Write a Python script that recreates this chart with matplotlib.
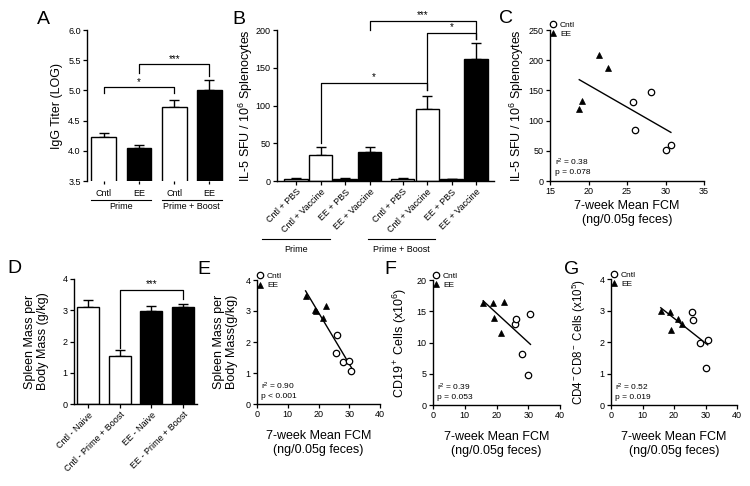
import numpy as np
import matplotlib
matplotlib.use('Agg')
import matplotlib.pyplot as plt
from matplotlib.lines import Line2D
from matplotlib.transforms import blended_transform_factory

plt.rcParams['font.family'] = ['Liberation Sans', 'DejaVu Sans']
plt.rcParams['mathtext.fontset'] = 'custom'
plt.rcParams['mathtext.rm'] = 'Liberation Sans'
plt.rcParams['mathtext.it'] = 'Liberation Sans:italic'
plt.rcParams['mathtext.bf'] = 'Liberation Sans:bold'

# ---------------- data ----------------
# Panel A
a_labels = ['Cntl', 'EE', 'Cntl', 'EE']
a_groups = ['Prime', 'Prime + Boost']
a_means = [4.23, 4.05, 4.72, 5.01]
a_err = [0.07, 0.05, 0.12, 0.16]
a_colors = ['white', 'black', 'white', 'black']
a_sig = [(0, 2, 5.06, 4.96, 4.96, '*'), (1, 3, 5.43, 5.29, 5.24, '***')]

# Panel B
b_labels = ['Cntl + PBS', 'Cntl + Vaccine', 'EE + PBS', 'EE + Vaccine',
            'Cntl + PBS', 'Cntl + Vaccine', 'EE + PBS', 'EE + Vaccine']
b_groups = ['Prime', 'Prime + Boost']
b_means = [3, 35, 3, 38, 3, 95, 2, 162]
b_err = [0.8, 10, 0.5, 7, 0.8, 18, 0.4, 21]
b_colors = ['white', 'white', 'black', 'black', 'white', 'white', 'black', 'black']
b_sig = [(1, 5, 130, 50, 120, '*'), (3, 7, 212, 200, 188, '***'), (5, 7, 196, 120, 188, '*')]

# Panel C
c_cntl_x = [25.8, 26.0, 28.1, 30.0, 30.7]
c_cntl_y = [130, 85, 147, 52, 59]
c_ee_x = [18.8, 19.2, 21.4, 22.5]
c_ee_y = [119, 132, 208, 187]
c_stats = 'r$^2$ = 0.38\np = 0.078'

# Panel D
d_labels = ['Cntl - Naive', 'Cntl - Prime + Boost', 'EE - Naive', 'EE - Prime + Boost']
d_means = [3.1, 1.55, 2.98, 3.1]
d_err = [0.24, 0.19, 0.15, 0.11]
d_colors = ['white', 'white', 'black', 'black']
d_sig = [(1, 3, 3.66, 1.8, 3.36, '***')]

# Panels E, F, G (shared FCM values)
cntl_fcm = [25.8, 26.0, 28.1, 30.0, 30.7]
ee_fcm = [15.8, 18.8, 19.2, 21.4, 22.5]
e_cntl = [1.65, 2.22, 1.37, 1.39, 1.07]
e_ee = [3.5, 3.03, 3.0, 2.78, 3.15]
e_stats = 'r$^2$ = 0.90\np < 0.001'
f_cntl = [13.0, 13.8, 8.2, 4.8, 14.6]
f_ee = [16.4, 16.4, 13.9, 11.5, 16.5]
f_stats = 'r$^2$ = 0.39\np = 0.053'
g_cntl = [2.95, 2.71, 1.98, 1.19, 2.07]
g_ee = [3.0, 2.95, 2.37, 2.73, 2.57]
g_stats = 'r$^2$ = 0.52\np = 0.019'

# ---------------- layout helpers ----------------
W, H = 750, 486
fig = plt.figure(figsize=(W / 100, H / 100), dpi=100)


def rect(l, r, t, b):
    return [l / W, 1 - b / H, (r - l) / W, (b - t) / H]


def px(x, y):
    return x / W, 1 - y / H


TICK_FS = 6.5
LABEL_FS = 9
SMALL_FS = 6.0


def style(ax, hide_bottom=False):
    for s in ['top', 'right']:
        ax.spines[s].set_visible(False)
    if hide_bottom:
        ax.spines['bottom'].set_visible(False)
    for s in ax.spines.values():
        s.set_linewidth(1.0)
    ax.tick_params(direction='out', length=3, width=0.9, labelsize=TICK_FS, pad=1.5)


def bars(ax, pos, means, errs, colors, width):
    ax.bar(pos, means, width=width, color=colors, edgecolor='black', linewidth=1.0, zorder=2)
    ax.errorbar(pos, means, yerr=[np.zeros(len(errs)), errs], fmt='none', ecolor='black',
                elinewidth=1.0, capsize=3.5, capthick=1.0, zorder=1, clip_on=False)


def brackets(ax, pos, sig, off):
    for i1, i2, y, l1, l2, txt in sig:
        x1, x2 = pos[i1], pos[i2]
        ax.plot([x1, x1, x2, x2], [l1, y, y, l2], color='black', lw=0.9, clip_on=False)
        ax.text((x1 + x2) / 2, y + off, txt, ha='center', va='bottom', fontsize=7, clip_on=False)


def ylab(ax, text, xpix, l, r, fs=LABEL_FS):
    # xpix = right edge (screen) of the rotated label
    ax.set_ylabel(text, fontsize=fs, linespacing=1.1)
    ax.yaxis.set_label_coords((xpix - l) / (r - l), 0.5)


def scatter_panel(ax, cx, cy, ex, ey, stats):
    ax.plot(cx, cy, 'o', ms=4.6, mfc='white', mec='black', mew=0.9, ls='none',
            label='Cntl', clip_on=False, zorder=3)
    ax.plot(ex, ey, '^', ms=4.0, mfc='black', mec='black', mew=0.5, ls='none',
            label='EE', clip_on=False, zorder=3)
    allx = np.array(list(cx) + list(ex))
    ally = np.array(list(cy) + list(ey))
    k, b0 = np.polyfit(allx, ally, 1)
    xs = np.array([allx.min(), allx.max()])
    ax.plot(xs, k * xs + b0, color='black', lw=1.0, zorder=2)
    ax.text(0.03, 0.03, stats, transform=ax.transAxes, fontsize=SMALL_FS, ha='left', va='bottom',
            linespacing=1.3)
    ax.legend(loc='upper left', bbox_to_anchor=(0.0, 1.06), borderaxespad=0, frameon=False,
              fontsize=SMALL_FS, handlelength=0.6, handletextpad=0.6, labelspacing=0.15,
              numpoints=1, borderpad=0)


def xlab2(ax, pad):
    ax.set_xlabel('7-week Mean FCM\n(ng/0.05g feces)', fontsize=LABEL_FS, linespacing=1.2, labelpad=pad)


# ---------------- Panel A ----------------
l, r, t, b = 87, 225, 30, 181
axA = fig.add_axes(rect(l, r, t, b))
posA = np.arange(4)
bars(axA, posA, a_means, a_err, a_colors, 0.7)
axA.set_ylim(3.5, 6.0)
axA.set_xlim(-0.47, 3.44)
axA.set_yticks([3.5, 4.0, 4.5, 5.0, 5.5, 6.0])
axA.set_yticklabels(['3.5', '4.0', '4.5', '5.0', '5.5', '6.0'])
axA.set_xticks(posA)
axA.set_xticklabels(a_labels)
style(axA, hide_bottom=True)
axA.tick_params(axis='x', length=2.5, pad=3)
brackets(axA, posA, a_sig, 0.0)
ylab(axA, 'IgG Titer (LOG)', 63, l, r)
trA = blended_transform_factory(axA.transData, axA.transAxes)
for gi, name in enumerate(a_groups):
    x1, x2 = posA[2 * gi] - 0.35, posA[2 * gi + 1] + 0.35
    axA.plot([x1, x2], [-0.126, -0.126], transform=trA, color='black', lw=0.8, clip_on=False)
    axA.text((x1 + x2) / 2, -0.14, name, transform=trA, ha='center', va='top', fontsize=TICK_FS)

# ---------------- Panel B ----------------
l, r, t, b = 277, 494, 30, 181
axB = fig.add_axes(rect(l, r, t, b))
posB = np.array([0, 1, 2, 3, 4.35, 5.35, 6.35, 7.35])
bars(axB, posB, b_means, b_err, b_colors, 0.95)
axB.set_ylim(0, 200)
axB.set_xlim(-0.78, 8.08)
axB.set_yticks([0, 50, 100, 150, 200])
axB.set_xticks(posB)
axB.set_xticklabels(b_labels, rotation=45, ha='right', rotation_mode='anchor')
style(axB)
brackets(axB, posB, b_sig, 1)
ylab(axB, 'IL-5 SFU / 10$^6$ Splenocytes', 255, l, r)
for (x1, x2), name in zip([(262, 330), (368, 435)], b_groups):
    fig.add_artist(Line2D([x1 / W, x2 / W], [1 - 239 / H, 1 - 239 / H], color='black', lw=0.8,
                          transform=fig.transFigure))
    fig.text(*px((x1 + x2) / 2, 245), name, ha='center', va='top', fontsize=TICK_FS)

# ---------------- Panel C ----------------
l, r, t, b = 550, 704, 30, 181
axC = fig.add_axes(rect(l, r, t, b))
scatter_panel(axC, c_cntl_x, c_cntl_y, c_ee_x, c_ee_y, c_stats)
axC.set_xlim(15, 35)
axC.set_ylim(0, 250)
axC.set_xticks([15, 20, 25, 30, 35])
axC.set_yticks([0, 50, 100, 150, 200, 250])
style(axC)
ylab(axC, 'IL-5 SFU / 10$^6$ Splenocytes', 526, l, r)
xlab2(axC, 3)

# ---------------- Panel D ----------------
l, r, t, b = 74, 197, 279, 404
axD = fig.add_axes(rect(l, r, t, b))
posD = np.arange(4)
bars(axD, posD, d_means, d_err, d_colors, 0.7)
axD.set_ylim(0, 4)
axD.set_xlim(-0.44, 3.44)
axD.set_yticks([0, 1, 2, 3, 4])
axD.set_xticks(posD)
axD.set_xticklabels(d_labels, rotation=45, ha='right', rotation_mode='anchor')
style(axD)
brackets(axD, posD, d_sig, 0.02)
ylab(axD, 'Spleen Mass per\nBody Mass (g/kg)', 49, l, r)

# ---------------- Panel E ----------------
l, r, t, b = 257, 380, 280, 404
axE = fig.add_axes(rect(l, r, t, b))
scatter_panel(axE, cntl_fcm, e_cntl, ee_fcm, e_ee, e_stats)
axE.set_xlim(0, 40)
axE.set_ylim(0, 4)
axE.set_xticks([0, 10, 20, 30, 40])
axE.set_yticks([0, 1, 2, 3, 4])
style(axE)
ylab(axE, 'Spleen Mass per\nBody Mass(g/kg)', 238, l, r)
xlab2(axE, 8)

# ---------------- Panel F ----------------
l, r, t, b = 433, 560, 280, 405
axF = fig.add_axes(rect(l, r, t, b))
scatter_panel(axF, cntl_fcm, f_cntl, ee_fcm, f_ee, f_stats)
axF.set_xlim(0, 40)
axF.set_ylim(0, 20)
axF.set_xticks([0, 10, 20, 30, 40])
axF.set_yticks([0, 5, 10, 15, 20])
style(axF)
ylab(axF, 'CD19$^+$ Cells (x10$^6$)', 409, l, r)
xlab2(axF, 8)

# ---------------- Panel G ----------------
l, r, t, b = 611, 737, 279, 405
axG = fig.add_axes(rect(l, r, t, b))
scatter_panel(axG, cntl_fcm, g_cntl, ee_fcm, g_ee, g_stats)
axG.set_xlim(0, 40)
axG.set_ylim(0, 4)
axG.set_xticks([0, 10, 20, 30, 40])
axG.set_yticks([0, 1, 2, 3, 4])
style(axG)
ylab(axG, 'CD4$^-$CD8$^-$ Cells (x10$^5$)', 588, l, r, fs=8.3)
xlab2(axG, 8)

# ---------------- panel letters ----------------
for letter, (x, y) in zip('ABCDEFG', [(37, 11), (232, 11), (499, 10), (7, 260), (197, 261),
                                      (384, 261), (564, 261)]):
    fig.text(*px(x, y), letter, fontsize=14, ha='left', va='top')

fig.savefig('out.png', dpi=100)
